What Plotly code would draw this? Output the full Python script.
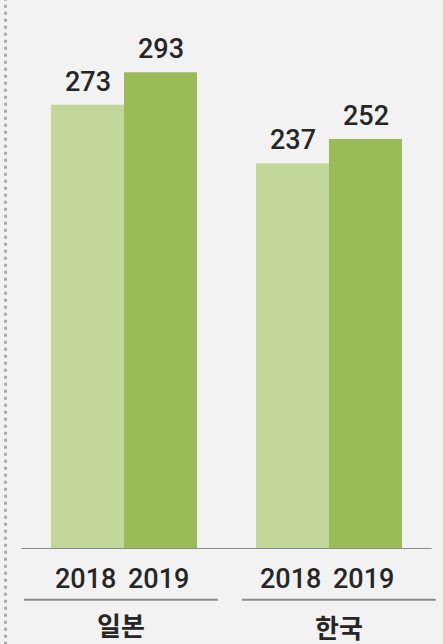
import plotly.graph_objects as go

countries = ["일본", "한국"]
years = ["2018", "2019"]
values_2018 = [273, 237]
values_2019 = [293, 252]
colors = ["#c4d79b", "#9bbb59"]

W, H = 443, 644
FONT = "Roboto"
KFONT = "Noto Sans CJK KR"
TXT = "#262626"

fig = go.Figure()
series = [values_2018, values_2019]
for yr, vals, col in zip(years, series, colors):
    fig.add_trace(go.Bar(x=list(range(len(countries))), y=vals, name=yr,
                         marker=dict(color=col, line=dict(width=0)),
                         hoverinfo="skip"))

bargap = 0.288
half = (1 - bargap) / 2 / 2  # half width of one bar in data units
offsets = [-half, half]

annotations = []
for i, c in enumerate(countries):
    for j, (yr, vals) in enumerate(zip(years, series)):
        annotations.append(dict(x=i + offsets[j], y=vals[i], xref="x", yref="y",
                                text=str(vals[i]), showarrow=False, yanchor="bottom",
                                yshift=5, font=dict(family=FONT, size=27, color=TXT, weight=500)))
        annotations.append(dict(x=i + offsets[j] - 0.012, y=-0.0546, xref="x", yref="paper",
                                text=yr, showarrow=False, yanchor="middle",
                                font=dict(family=FONT, size=27, color=TXT, weight=500)))
group_shift = [-0.015, 0.048]
group_y = [-0.138, -0.142]
for i, c in enumerate(countries):
    annotations.append(dict(x=i + group_shift[i], y=group_y[i], xref="x", yref="paper",
                            text=c, showarrow=False, yanchor="middle",
                            font=dict(family=KFONT, size=26, color=TXT, weight="bold")))

shapes = [
    dict(type="line", xref="paper", yref="paper", x0=5.5 / W, x1=5.5 / W, y0=-0.2, y1=1.0,
         line=dict(color="#aaaaaa", width=3, dash="3px,4px")),
    dict(type="line", xref="x", yref="y", x0=-0.5, x1=len(countries) - 0.5, y0=0, y1=0,
         line=dict(color="#8c8c8c", width=2)),
]
for i in range(len(countries)):
    shapes.append(dict(type="line", xref="x", yref="paper",
                       x0=i + group_shift[i] - 0.473, x1=i + group_shift[i] + 0.473,
                       y0=-0.0926, y1=-0.0926, line=dict(color="#8c8c8c", width=2)))

fig.update_layout(
    width=W, height=H,
    margin=dict(l=0, r=0, t=0, b=95),
    paper_bgcolor="#f2f2f2", plot_bgcolor="#f2f2f2",
    barmode="group", bargap=bargap, bargroupgap=0,
    showlegend=False,
    xaxis=dict(range=[-0.605, 1.556], showticklabels=False, showgrid=False,
               zeroline=False, fixedrange=True),
    yaxis=dict(range=[0, 337.4], showticklabels=False, showgrid=False,
               zeroline=False, fixedrange=True),
    annotations=annotations,
    shapes=shapes,
)

fig.write_html("out.html", config={"displayModeBar": False})

with open("out.html", encoding="utf-8") as f:
    html = f.read()
html = html.replace("<head>", "<head><style>html,body{margin:0;padding:0;overflow:hidden;background:#f2f2f2;}</style>", 1)
with open("out.html", "w", encoding="utf-8") as f:
    f.write(html)
